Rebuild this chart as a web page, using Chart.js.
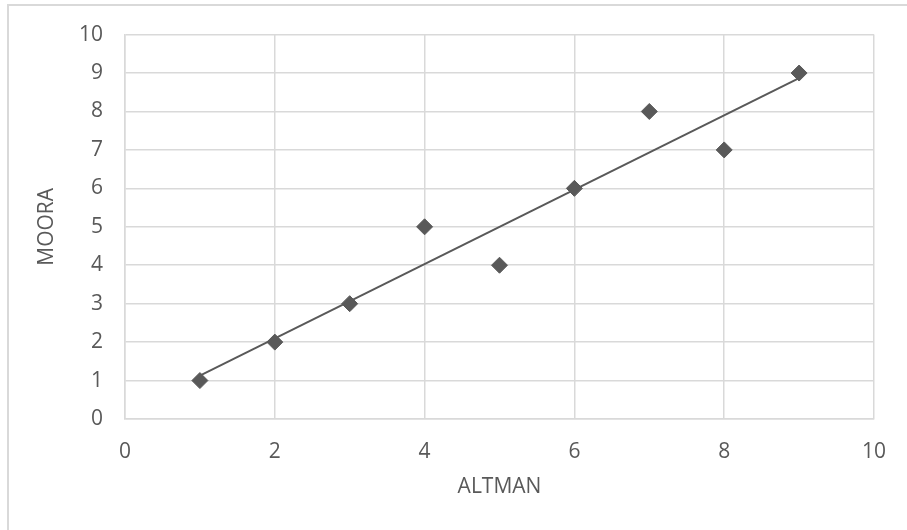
<!DOCTYPE html>
<html>
<head>
<meta charset="utf-8">
<script src="https://cdn.jsdelivr.net/npm/chart.js@4.4.0/dist/chart.umd.min.js"></script>
<style>
    body { margin: 0; background: #fff; overflow: hidden; }
    #wrap { position: relative; width: 907px; height: 530px; }
    #frame {
        position: absolute; left: 7px; top: 4px; width: 1000px; height: 1000px;
        border-left: 2px solid #d9d9d9; border-top: 2px solid #d9d9d9;
    }
    #chart { position: absolute; left: 0; top: 0; }
</style>
</head>
<body>
<div id="wrap">
    <div id="frame"></div>
    <canvas id="chart" width="907" height="530"></canvas>
</div>
<script>
// ALTMAN vs MOORA rankings
var altman = [1, 2, 3, 4, 5, 6, 7, 8, 9];
var moora = [1, 2, 3, 5, 4, 6, 8, 7, 9];

// linear trendline end points
var trendX = [1, 9];
var trendY = [1.13, 8.87];

var xTicks = [0, 2, 4, 6, 8, 10];
var yTicks = [0, 1, 2, 3, 4, 5, 6, 7, 8, 9, 10];

var inkColor = "#595959";
var gridColor = "#d9d9d9";
var fontFamily = "'Open Sans', sans-serif";

function toPoints(xs, ys) {
    return xs.map(function(x, i) { return { x: x, y: ys[i] }; });
}

var ctx = document.getElementById("chart").getContext("2d");
new Chart(ctx, {
    type: "scatter",
    data: {
        datasets: [{
            label: "MOORA",
            data: toPoints(altman, moora),
            pointStyle: "rectRot",
            pointRadius: 8,
            pointBackgroundColor: inkColor,
            pointBorderColor: inkColor,
            pointBorderWidth: 1
        }, {
            label: "Trend",
            data: toPoints(trendX, trendY),
            showLine: true,
            borderColor: inkColor,
            borderWidth: 2,
            pointRadius: 0
        }]
    },
    options: {
        responsive: false,
        animation: false,
        events: [],
        layout: { padding: { top: 34, right: 33, left: 0, bottom: 0 } },
        plugins: {
            legend: { display: false },
            tooltip: { enabled: false }
        },
        scales: {
            x: {
                type: "linear",
                min: 0,
                max: 10,
                afterBuildTicks: function(axis) {
                    axis.ticks = xTicks.map(function(v) { return { value: v }; });
                },
                afterFit: function(axis) { axis.height = 111; },
                grid: { color: gridColor, lineWidth: 1.5, drawTicks: false },
                border: { color: gridColor, width: 1.5 },
                ticks: { color: inkColor, font: { family: fontFamily, size: 21 }, padding: 20 },
                title: {
                    display: true,
                    text: "ALTMAN",
                    color: inkColor,
                    font: { family: fontFamily, size: 21 },
                    padding: { top: 0, bottom: 30 }
                }
            },
            y: {
                type: "linear",
                min: 0,
                max: 10,
                afterBuildTicks: function(axis) {
                    axis.ticks = yTicks.map(function(v) { return { value: v }; });
                },
                afterFit: function(axis) { axis.width = 125; },
                grid: { color: gridColor, lineWidth: 1.5, drawTicks: false },
                border: { color: gridColor, width: 1.5 },
                ticks: { color: inkColor, font: { family: fontFamily, size: 21 }, padding: 22 },
                title: {
                    display: true,
                    text: "MOORA",
                    color: inkColor,
                    font: { family: fontFamily, size: 21 },
                    padding: { top: 34, bottom: 0 }
                }
            }
        }
    }
});
</script>
</body>
</html>
